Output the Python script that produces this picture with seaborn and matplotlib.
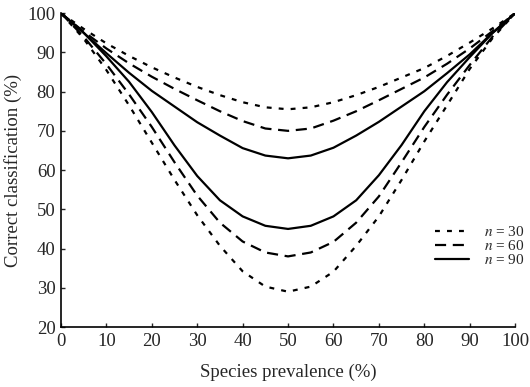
import matplotlib
matplotlib.use("Agg")
import matplotlib.pyplot as plt
import pandas as pd
import seaborn as sns

# species prevalence (%)
prevalence = [0, 5, 10, 15, 20, 25, 30, 35, 40, 45, 50,
              55, 60, 65, 70, 75, 80, 85, 90, 95, 100]

# upper curves (correct classification, %)
upper_30 = [100, 96.0, 92.3, 89.1, 86.2, 83.6, 81.2, 79.1, 77.3, 76.0, 75.5,
            76.0, 77.3, 79.1, 81.2, 83.6, 86.0, 89.1, 92.5, 96.1, 100]
upper_60 = [100, 95.3, 91.0, 87.2, 83.8, 80.7, 77.8, 75.0, 72.5, 70.6, 70.0,
            70.6, 72.6, 75.0, 77.8, 80.7, 83.6, 87.1, 91.0, 95.4, 100]
upper_90 = [100, 95.0, 89.8, 84.8, 80.2, 76.2, 72.2, 68.8, 65.6, 63.7, 63.0,
            63.7, 65.7, 68.8, 72.3, 76.2, 80.1, 84.7, 89.5, 95.0, 100]

# lower curves
lower_90 = [100, 95.0, 89.0, 82.5, 74.8, 66.3, 58.5, 52.3, 48.2, 45.8, 45.0,
            45.8, 48.2, 52.3, 58.7, 66.4, 75.0, 82.4, 88.8, 94.9, 100]
lower_60 = [100, 94.0, 87.0, 79.3, 71.0, 62.0, 53.5, 46.6, 41.8, 39.0, 38.0,
            39.0, 41.7, 46.6, 53.3, 62.0, 71.0, 79.2, 86.8, 94.0, 100]
lower_30 = [100, 93.5, 85.5, 76.5, 67.0, 57.5, 48.5, 40.7, 34.2, 30.3, 29.0,
            30.3, 34.1, 40.7, 48.2, 57.5, 67.3, 76.5, 85.8, 93.6, 100]

sample_sizes = ['30', '60', '90']

# long table for seaborn
rows = []
curves = {('30', 'upper'): upper_30, ('60', 'upper'): upper_60, ('90', 'upper'): upper_90,
          ('30', 'lower'): lower_30, ('60', 'lower'): lower_60, ('90', 'lower'): lower_90}
for (n, branch), vals in curves.items():
    for p, v in zip(prevalence, vals):
        rows.append({'prevalence': p, 'correct': v, 'n': n, 'curve': n + branch})
df = pd.DataFrame(rows)

sns.set_style("ticks")
plt.rcParams['font.family'] = ['Liberation Serif', 'DejaVu Serif']
plt.rcParams['mathtext.fontset'] = 'stix'

fig, ax = plt.subplots(figsize=(5.3, 3.87), dpi=100)
fig.subplots_adjust(left=0.115, right=0.972, bottom=0.155, top=0.966)

sns.lineplot(data=df, x='prevalence', y='correct', style='n', units='curve',
             estimator=None, color='black', linewidth=1.6,
             style_order=sample_sizes,
             dashes={'30': (2.2, 3.2), '60': (5, 3), '90': ''}, ax=ax)

ax.set_xlim(0, 100)
ax.set_ylim(20, 100)
ax.set_xticks(range(0, 101, 10))
ax.set_yticks(range(20, 101, 10))
ax.tick_params(direction='in', length=3, width=1, labelsize=13.5, pad=4)
sns.despine(ax=ax)
for s in ['left', 'bottom']:
    ax.spines[s].set_linewidth(1.2)
    ax.spines[s].set_color('black')

ax.set_xlabel('Species prevalence (%)', fontsize=13.5, labelpad=10)
ax.set_ylabel('Correct classification (%)', fontsize=13.5, labelpad=4)

handles, labels = ax.get_legend_handles_labels()
ax.legend(handles, ['$n$ = ' + n for n in sample_sizes], frameon=False,
          loc='center left', bbox_to_anchor=(435 / 530, 1 - 246 / 387),
          bbox_transform=fig.transFigure, fontsize=11,
          handlelength=2.2, handletextpad=1.0, labelspacing=0.0,
          borderpad=0, borderaxespad=0)

fig.savefig('out.png', dpi=100, facecolor='white')
